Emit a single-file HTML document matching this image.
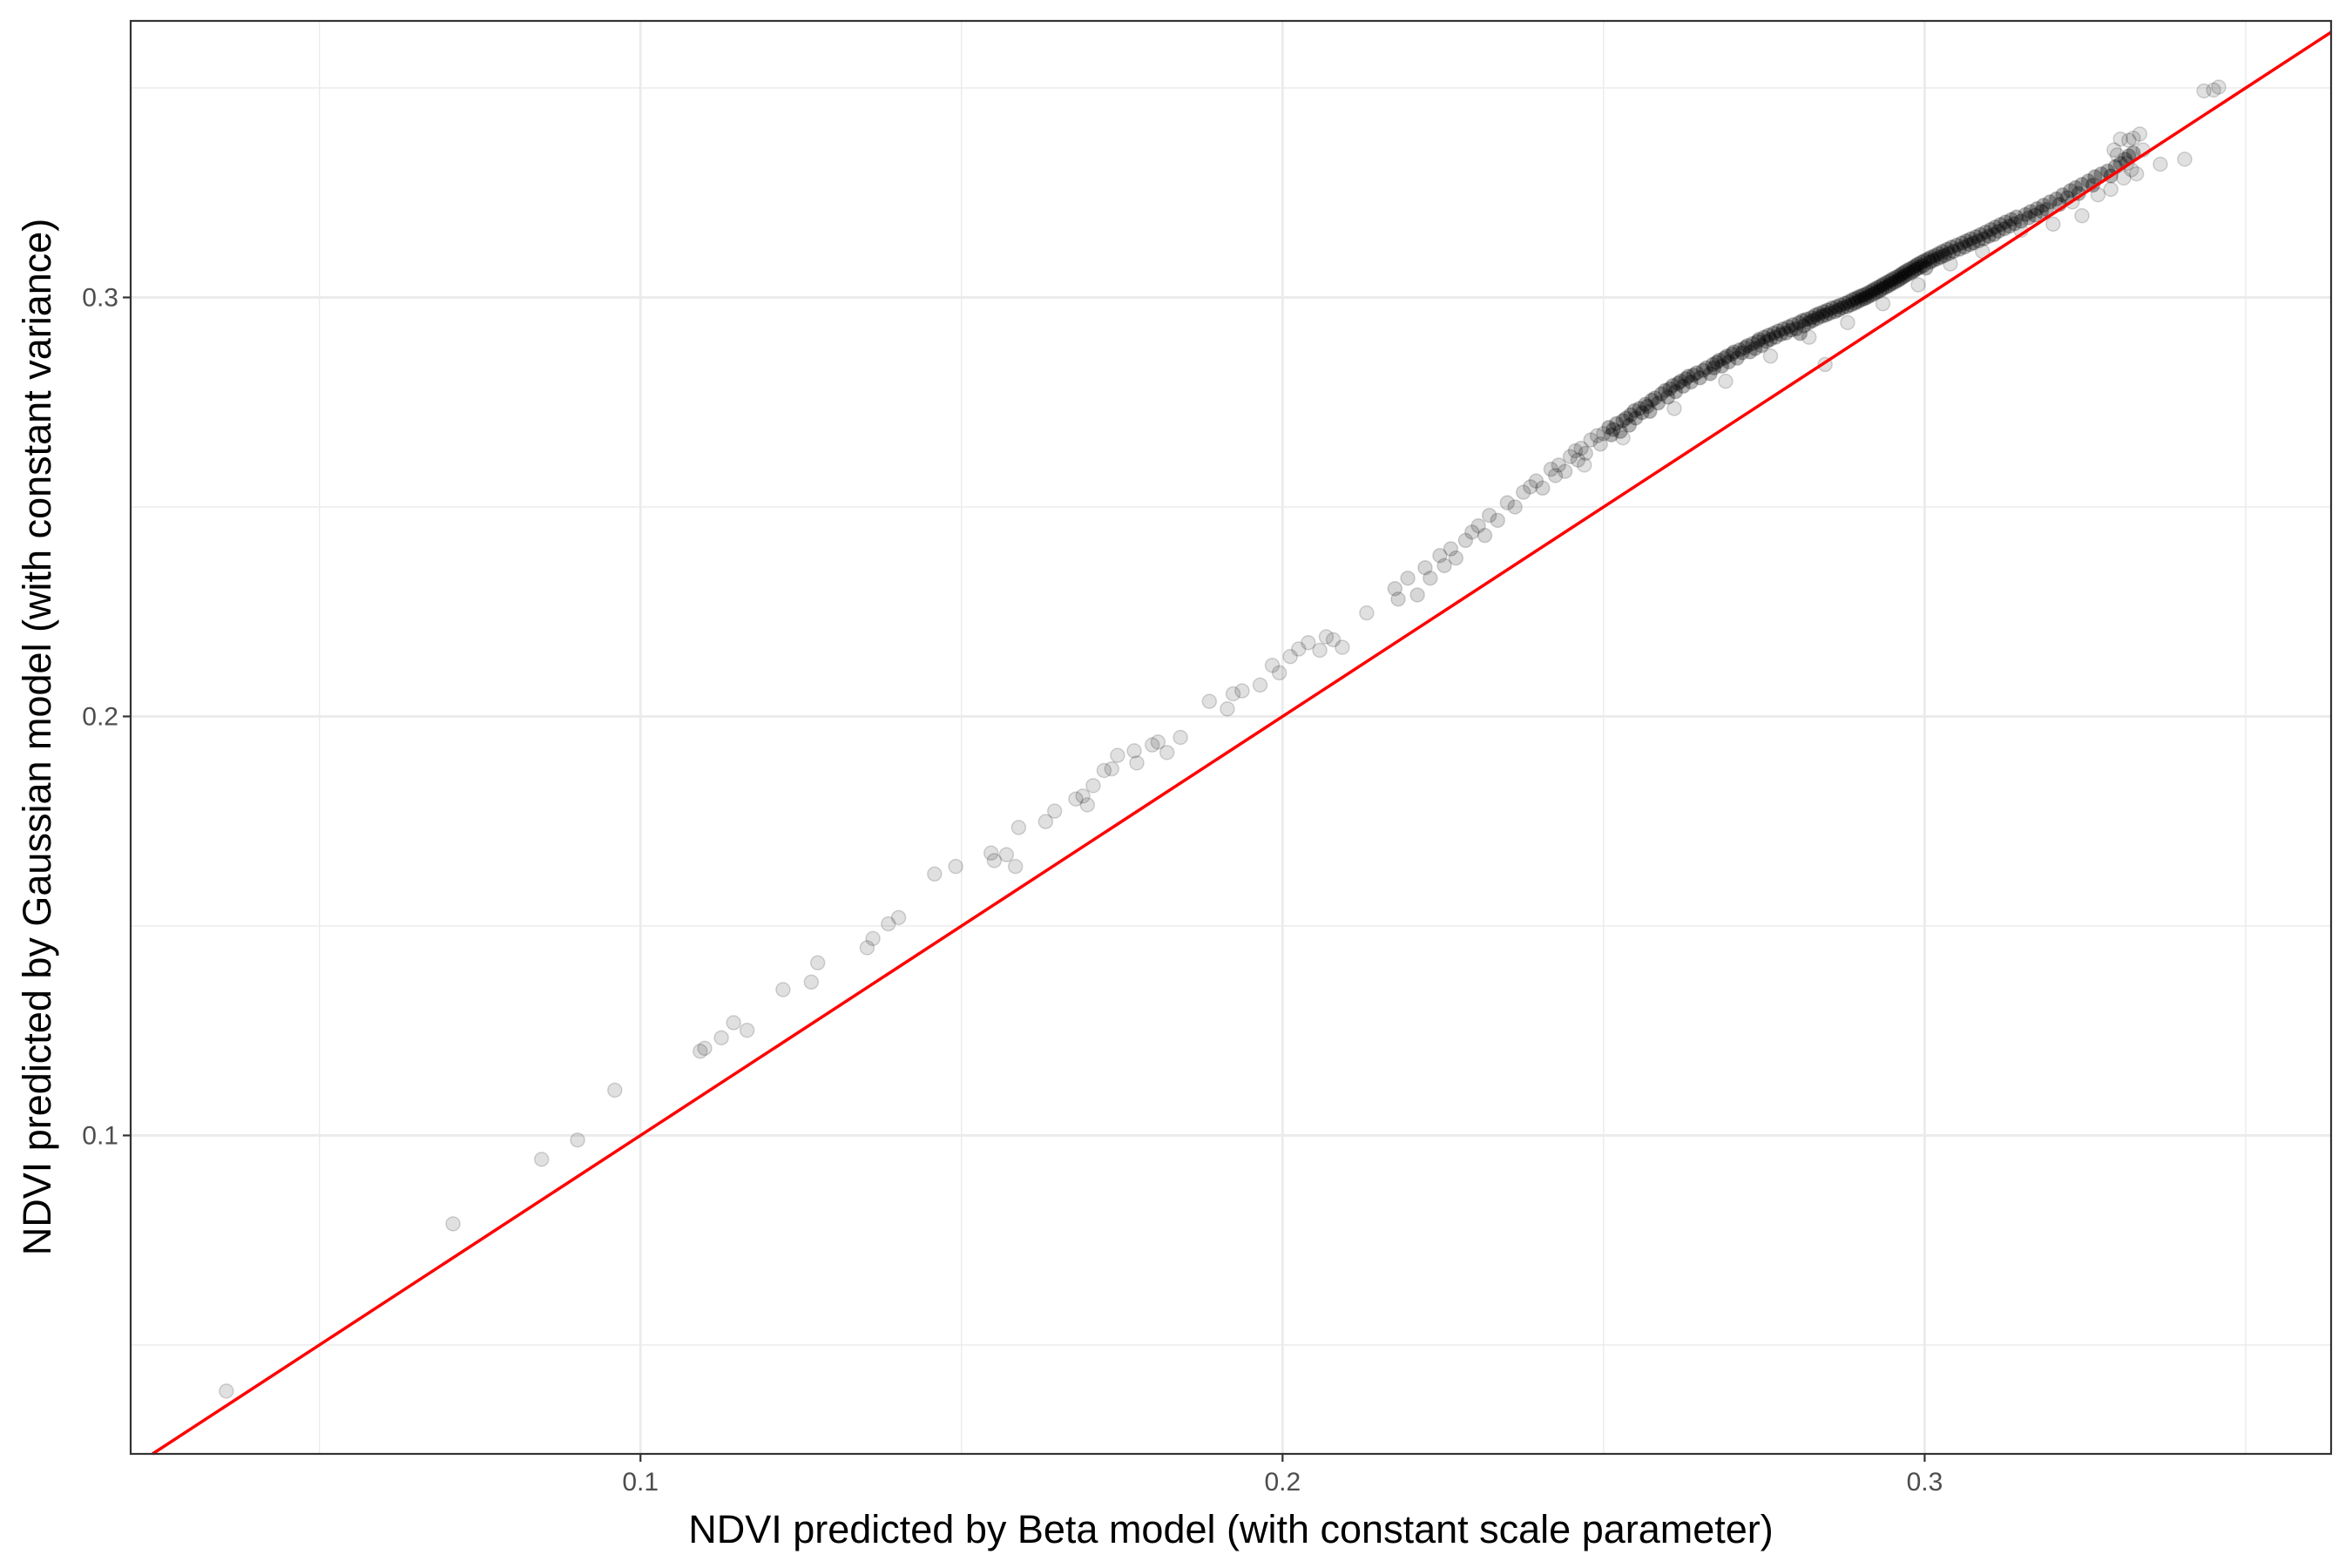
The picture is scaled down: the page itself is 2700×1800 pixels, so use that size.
<!DOCTYPE html>
<html><head><meta charset="utf-8"><style>
html,body{margin:0;padding:0;background:#fff;}
svg{display:block;font-family:"Liberation Sans",Arial,sans-serif;}
</style></head><body>
<svg id="chart" width="2700" height="1800" viewBox="0 0 2700 1800" xmlns="http://www.w3.org/2000/svg">
<rect x="0" y="0" width="2700" height="1800" fill="#fff"/>
<g id="grid"></g>
<g id="pts"></g>
<g id="ref"></g>
<g id="axes"></g>
<text x="1413" y="1771" text-anchor="middle" font-size="45" fill="#000">NDVI predicted by Beta model (with constant scale parameter)</text>
<text transform="translate(58,846) rotate(-90)" text-anchor="middle" font-size="45" fill="#000">NDVI predicted by Gaussian model (with constant variance)</text>
</svg>
<script>
const xTicks=[0.1,0.2,0.3];
const yTicks=[0.1,0.2,0.3];
const xMinor=[0.05,0.15,0.25,0.35];
const yMinor=[0.05,0.15,0.25,0.35];
const xTickLabels=["0.1","0.2","0.3"];
const yTickLabels=["0.1","0.2","0.3"];
// sparse lower points: [beta prediction, gaussian prediction]
const sparsePoints=[[0.0355,0.0390],[0.0708,0.0789],[0.0846,0.0943],[0.0902,0.0989],[0.0960,0.1108],[0.1093,0.1201],[0.1100,0.1208],[0.1126,0.1233],[0.1145,0.1269],[0.1166,0.1251],[0.1222,0.1348],[0.1266,0.1366],[0.1276,0.1412],[0.1353,0.1448],[0.1362,0.1470],[0.1386,0.1505],[0.1402,0.1520],[0.1458,0.1624],[0.1491,0.1642],[0.1546,0.1674],[0.1551,0.1656],[0.1570,0.1670],[0.1584,0.1642],[0.1589,0.1735],[0.1631,0.1749],[0.1645,0.1774],[0.1678,0.1803],[0.1689,0.1810],[0.1696,0.1789],[0.1705,0.1835],[0.1722,0.1871],[0.1734,0.1875],[0.1743,0.1907],[0.1769,0.1918],[0.1773,0.1889],[0.1797,0.1932],[0.1806,0.1939],[0.1820,0.1914],[0.1841,0.1950],[0.1886,0.2036],[0.1914,0.2018],[0.1923,0.2054],[0.1937,0.2061],[0.1965,0.2075],[0.1984,0.2122],[0.1995,0.2104],[0.2012,0.2143],[0.2025,0.2161],[0.2040,0.2176],[0.2058,0.2158],[0.2068,0.2190],[0.2079,0.2183],[0.2093,0.2165],[0.2131,0.2247]];
// mid-range points
const midPoints=[[0.2175,0.2305],[0.2180,0.2280],[0.2195,0.2330],[0.2210,0.2290],[0.2222,0.2355],[0.2230,0.2330],[0.2245,0.2384],[0.2252,0.2360],[0.2262,0.2400],[0.2270,0.2378],[0.2285,0.2420],[0.2295,0.2440],[0.2305,0.2455],[0.2315,0.2432],[0.2322,0.2480],[0.2335,0.2468],[0.2350,0.2510],[0.2362,0.2500],[0.2375,0.2535],[0.2386,0.2548],[0.2395,0.2562],[0.2405,0.2545],[0.2418,0.2590],[0.2425,0.2575],[0.2430,0.2600],[0.2440,0.2585],[0.2448,0.2620],[0.2456,0.2634],[0.2460,0.2612],[0.2465,0.2640],[0.2472,0.2628],[0.2480,0.2660],[0.2490,0.2670],[0.2495,0.2650],[0.2500,0.2675]];
// dense ridge points
const densePoints=[[0.2508,0.2690],[0.2512,0.2672],[0.2515,0.2685],[0.2520,0.2699],[0.2526,0.2680],[0.2530,0.2706],[0.2535,0.2712],[0.2540,0.2695],[0.2542,0.2720],[0.2548,0.2730],[0.2550,0.2712],[0.2556,0.2735],[0.2560,0.2725],[0.2565,0.2745],[0.2568,0.2740],[0.2572,0.2728],[0.2575,0.2755],[0.2580,0.2760],[0.2585,0.2748],[0.2590,0.2770],[0.2596,0.2778],[0.2600,0.2762],[0.2603,0.2782],[0.2608,0.2790],[0.2612,0.2775],[0.2616,0.2795],[0.2620,0.2800],[0.2624,0.2788],[0.2628,0.2806],[0.2632,0.2812],[0.2636,0.2798],[0.2640,0.2815],[0.2645,0.2820],[0.2650,0.2808],[0.2655,0.2826],[0.2660,0.2832],[0.2666,0.2818],[0.2670,0.2840],[0.2672,0.2832],[0.2676,0.2845],[0.2680,0.2850],[0.2684,0.2836],[0.2688,0.2855],[0.2692,0.2860],[0.2695,0.2846],[0.2700,0.2865],[0.2703,0.2870],[0.2708,0.2855],[0.2712,0.2875],[0.2716,0.2868],[0.2720,0.2880],[0.2724,0.2885],[0.2728,0.2870],[0.2732,0.2890],[0.2736,0.2878],[0.2740,0.2895],[0.2742,0.2900],[0.2746,0.2885],[0.2750,0.2905],[0.2754,0.2895],[0.2757,0.2910],[0.2760,0.2900],[0.2765,0.2915],[0.2768,0.2905],[0.2772,0.2920],[0.2776,0.2912],[0.2780,0.2925],[0.2784,0.2915],[0.2788,0.2930],[0.2792,0.2922],[0.2795,0.2935],[0.2800,0.2925],[0.2804,0.2940],[0.2806,0.2914],[0.2810,0.2945],[0.2812,0.2932],[0.2816,0.2948],[0.2820,0.2940],[0.2824,0.2952],[0.2826,0.2945],[0.2830,0.2958],[0.2833,0.2950],[0.2836,0.2962],[0.2840,0.2955],[0.2843,0.2966],[0.2846,0.2958],[0.2849,0.2970],[0.2852,0.2962],[0.2856,0.2975],[0.2860,0.2966],[0.2863,0.2978],[0.2866,0.2970],[0.2869,0.2982],[0.2872,0.2975],[0.2876,0.2986],[0.2879,0.2978],[0.2882,0.2990],[0.2885,0.2982],[0.2888,0.2995],[0.2891,0.2986],[0.2893,0.2998],[0.2896,0.2990],[0.2898,0.3002],[0.2901,0.2994],[0.2903,0.3005],[0.2906,0.2997],[0.2908,0.3008],[0.2910,0.3000],[0.2913,0.3012],[0.2915,0.3004],[0.2918,0.3016],[0.2920,0.3008],[0.2922,0.3020],[0.2925,0.3012],[0.2927,0.3024],[0.2930,0.3016],[0.2932,0.3028],[0.2934,0.3020],[0.2936,0.3032],[0.2939,0.3024],[0.2941,0.3036],[0.2944,0.3028],[0.2946,0.3040],[0.2948,0.3032],[0.2950,0.3044],[0.2953,0.3036],[0.2955,0.3048],[0.2958,0.3040],[0.2960,0.3052],[0.2962,0.3044],[0.2964,0.3056],[0.2966,0.3048],[0.2968,0.3060],[0.2970,0.3052],[0.2972,0.3064],[0.2975,0.3056],[0.2977,0.3068],[0.2980,0.3060],[0.2982,0.3072],[0.2984,0.3064],[0.2986,0.3076],[0.2988,0.3068],[0.2990,0.3080],[0.2993,0.3072],[0.2995,0.3084],[0.2998,0.3076],[0.3000,0.3088],[0.3002,0.3070],[0.3005,0.3092],[0.3008,0.3084],[0.3010,0.3096],[0.3013,0.3088],[0.3016,0.3100],[0.3019,0.3092],[0.3022,0.3105],[0.3025,0.3096],[0.3028,0.3110],[0.3031,0.3100],[0.3035,0.3115],[0.3038,0.3105],[0.3042,0.3120],[0.3045,0.3110],[0.3050,0.3125],[0.3054,0.3115],[0.3058,0.3130],[0.3062,0.3120],[0.3065,0.3135],[0.3070,0.3126],[0.3072,0.3140],[0.3076,0.3130],[0.3080,0.3145],[0.3084,0.3135],[0.3087,0.3150],[0.3092,0.3140],[0.3095,0.3156],[0.3100,0.3146],[0.3103,0.3162],[0.3108,0.3150],[0.3110,0.3168],[0.3115,0.3158],[0.3118,0.3174],[0.3124,0.3164],[0.3126,0.3180],[0.3132,0.3170],[0.3135,0.3186],[0.3140,0.3176],[0.3143,0.3192],[0.3150,0.3182],[0.3157,0.3198],[0.3162,0.3190],[0.3165,0.3205],[0.3172,0.3196],[0.3175,0.3212],[0.3182,0.3205],[0.3185,0.3220],[0.3190,0.3210],[0.3195,0.3228],[0.3205,0.3235],[0.3210,0.3222],[0.3215,0.3245],[0.3222,0.3238],[0.3227,0.3255],[0.3235,0.3262],[0.3240,0.3248],[0.3245,0.3270],[0.3255,0.3278],[0.3262,0.3268],[0.3265,0.3288],[0.3275,0.3295],[0.3285,0.3302],[0.3290,0.3290],[0.3297,0.3312],[0.3305,0.3320],[0.3312,0.3330],[0.3318,0.3338],[0.3325,0.3345]];
// scattered points off the band
const belowPoints=[[0.2470,0.2600],[0.2530,0.2665],[0.2610,0.2735],[0.2690,0.2800],[0.2760,0.2860],[0.2820,0.2905],[0.2845,0.2840],[0.2880,0.2940],[0.2935,0.2985],[0.2990,0.3030],[0.3040,0.3080],[0.3090,0.3110],[0.3150,0.3160],[0.3200,0.3175],[0.3230,0.3228],[0.3245,0.3195],[0.3270,0.3245],[0.3290,0.3258],[0.3310,0.3285],[0.3322,0.3305],[0.3330,0.3295],[0.3315,0.3320],[0.3300,0.3340],[0.3295,0.3352],[0.3340,0.3352],[0.3367,0.3318],[0.3405,0.3330],[0.3318,0.3375],[0.3325,0.3380],[0.3305,0.3378],[0.3335,0.3390],[0.3435,0.3493],[0.3458,0.3502],[0.3450,0.3495]];

const L=150,R=2676,T=24,B=1669;
const xMin=0.0206,xMax=0.3633,yMin=0.0240,yMax=0.3660;
const sx=v=>L+(v-xMin)/(xMax-xMin)*(R-L);
const sy=v=>B-(v-yMin)/(yMax-yMin)*(B-T);
const NS="http://www.w3.org/2000/svg";
function mk(tag,attrs,parent){const e=document.createElementNS(NS,tag);for(const k in attrs)e.setAttribute(k,attrs[k]);parent.appendChild(e);return e;}
const grid=document.getElementById('grid');
xMinor.forEach(v=>{const e=mk('line',{x1:sx(v),x2:sx(v),y1:T,y2:B,stroke:'#ebebeb','stroke-width':1.4},grid);

});
yMinor.forEach(v=>{const e=mk('line',{x1:L,x2:R,y1:sy(v),y2:sy(v),stroke:'#ebebeb','stroke-width':1.4},grid);

});
xTicks.forEach(v=>{const e=mk('line',{x1:sx(v),x2:sx(v),y1:T,y2:B,stroke:'#ebebeb','stroke-width':2.8},grid);

});
yTicks.forEach(v=>{const e=mk('line',{x1:L,x2:R,y1:sy(v),y2:sy(v),stroke:'#ebebeb','stroke-width':2.8},grid);

});
const pts=document.getElementById('pts');
const groupAlpha=[0.12,0.16,0.3,0.12];
[sparsePoints,midPoints,densePoints,belowPoints].forEach((arr,gi)=>arr.forEach(p=>{
const c=mk('circle',{cx:sx(p[0]),cy:sy(p[1]),r:8,fill:'rgba(0,0,0,'+groupAlpha[gi]+')',stroke:'rgba(0,0,0,0.16)','stroke-width':1.5},pts);


}));
const ref=document.getElementById('ref');
const lo=Math.max(xMin,yMin),hi=Math.min(xMax,yMax);
const ln=mk('line',{x1:sx(lo),y1:sy(lo),x2:sx(hi),y2:sy(hi),stroke:'#ff0000','stroke-width':3.5},ref);


const axes=document.getElementById('axes');
const fr=mk('rect',{x:L,y:T,width:R-L,height:B-T,fill:'none',stroke:'#333','stroke-width':2.2},axes);


xTicks.forEach((v,i)=>{const t=mk('line',{x1:sx(v),x2:sx(v),y1:B,y2:B+9,stroke:'#333','stroke-width':2.2},axes);


const l=mk('text',{x:sx(v),y:B+42,'text-anchor':'middle','font-size':30,fill:'#4d4d4d'},axes);l.textContent=xTickLabels[i];

});
yTicks.forEach((v,i)=>{const t=mk('line',{x1:L-9,x2:L,y1:sy(v),y2:sy(v),stroke:'#333','stroke-width':2.2},axes);


const l=mk('text',{x:L-14,y:sy(v)+10,'text-anchor':'end','font-size':30,fill:'#4d4d4d'},axes);l.textContent=yTickLabels[i];

});
</script>
</body></html>
